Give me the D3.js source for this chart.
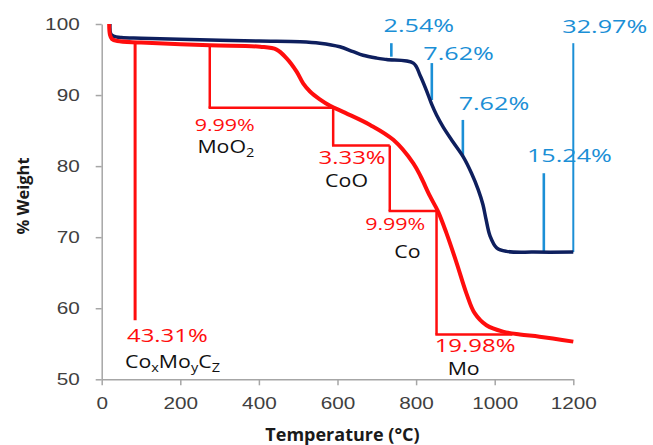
<!DOCTYPE html>
<html>
<head>
<meta charset="utf-8">
<script src="https://cdn.jsdelivr.net/npm/d3@7"></script>
<style>
  body { margin: 0; background: #fff; }
  svg { display: block; font-family: "Open Sans", sans-serif; }
  .axis path, .axis line { stroke: #a6a6a6; stroke-width: 1.5; }
  .axis text { fill: #404040; }
</style>
</head>
<body>
<div id="chart"></div>
<script>
// TGA curves, temperature (°C) vs % weight
const blueT = [21, 23, 30, 50, 100, 250, 400, 505, 555, 606, 640, 665, 700, 725, 793, 810, 826, 839, 852, 869, 894, 920, 941, 958, 970, 978, 988, 1005, 1030, 1100, 1200]
const blueW = [100, 98.6, 98.3, 98.1, 98.0, 97.8, 97.6, 97.5, 97.3, 96.8, 96.1, 95.6, 95.2, 95.0, 94.5, 92.8, 90.7, 88.8, 87.2, 85.5, 83.4, 81.3, 79.0, 76.7, 74.6, 72.5, 70.2, 68.5, 68.0, 67.9, 67.9]

const redT = [19, 21, 26, 40, 100, 275, 403, 445, 470, 496, 513, 530, 555, 581, 620, 683, 742, 793, 812, 835, 856, 877, 903, 928, 949, 979, 1021, 1064, 1114, 1200]
const redW = [100, 98.5, 97.9, 97.6, 97.4, 97.0, 96.8, 96.4, 95.2, 93.3, 91.6, 90.5, 89.4, 88.5, 87.5, 85.8, 83.7, 80.4, 78.5, 75.8, 73.6, 70.6, 66.4, 62.1, 59.3, 57.6, 56.7, 56.3, 56.0, 55.3]

// red step annotations
const stepT = [85, 275, 589, 733, 852]
const stepTop = [97.4, 97.0, 88.2, 82.9, 73.7]
const stepBottom = [58.3, 88.2, 82.9, 73.7, 56.3]
const stepEndT = [null, 589, 733, 852, 1045]

// blue markers
const markT = [737, 840, 919, 1125, 1200]
const markTop = [97.3, 94.5, 86.5, 79.0, 97.3]
const markBottom = [95.4, 89.3, 81.3, 67.9, 67.9]

// labels: text, temperature, weight (baseline)
const redLabels = [
  ['43.31%', 167, 55.25, 'big'],
  ['9.99%', 313, 85.0, 'small'],
  ['3.33%', 637, 80.3, 'big'],
  ['9.99%', 747, 71.0, 'small'],
  ['19.98%', 950, 53.8, 'big']
]
const phaseLabels = [
  ['Co_xMo_yC_Z', 180, 51.6],
  ['MoO_2', 316, 81.9],
  ['CoO', 623, 77.0],
  ['Co', 778, 67.0],
  ['Mo', 921, 50.6]
]
const blueLabels = [
  ['2.54%', 807, 98.9],
  ['7.62%', 908, 94.9],
  ['7.62%', 998, 87.9],
  ['15.24%', 1190, 80.6],
  ['32.97%', 1280, 98.7]
]

const xTicks = [0, 200, 400, 600, 800, 1000, 1200]
const yTicks = [50, 60, 70, 80, 90, 100]

const W = 653, H = 445
const RED = '#ff0d0d', NAVY = '#0e1f5e', BLUE = '#1b8fd6'

const svg = d3.select('#chart').append('svg')
  .attr('width', W)
  .attr('height', H)

const x = d3.scaleLinear().domain([0, 1200]).range([101.7, 573.3])
const y = d3.scaleLinear().domain([50, 100]).range([379.3, 24])

// axes
const xAxis = svg.append('g')
  .attr('class', 'axis')
  .attr('transform', 'translate(0,' + y(50) + ')')
  .call(d3.axisBottom(x).tickValues(xTicks).tickFormat(d3.format('d')).tickSize(6).tickPadding(8).tickSizeOuter(0))
xAxis.selectAll('text')
  .attr('font-size', 17)
  .attr('transform', 'scale(1.22,1)')
  .attr('dy', '0.9em')

const yAxis = svg.append('g')
  .attr('class', 'axis')
  .attr('transform', 'translate(' + x(0) + ',0)')
  .call(d3.axisLeft(y).tickValues(yTicks).tickSize(6).tickPadding(22).tickSizeOuter(0))
yAxis.selectAll('text')
  .attr('font-size', 17)
  .attr('text-anchor', 'end')
  .attr('transform', 'scale(1.22,1)')
  .attr('x', -22 / 1.22)

// axis titles
svg.append('text')
  .attr('x', (x(0) + x(1200)) / 2 + 5)
  .attr('y', 441)
  .attr('text-anchor', 'middle')
  .attr('font-size', 18)
  .attr('font-weight', 'bold')
  .attr('fill', '#1a1a1a')
  .text('Temperature (°C)')

svg.append('text')
  .attr('transform', 'translate(29,196) rotate(-90)')
  .attr('text-anchor', 'middle')
  .attr('font-size', 16.5)
  .attr('font-weight', 'bold')
  .attr('fill', '#1a1a1a')
  .text('% Weight')

// annotation lines
const ann = svg.append('g')
stepT.forEach((t, i) => {
  ann.append('line')
    .attr('x1', x(t)).attr('x2', x(t))
    .attr('y1', y(stepTop[i])).attr('y2', y(stepBottom[i]))
    .attr('stroke', RED).attr('stroke-width', i == 0 ? 3 : 2.5)
  if (stepEndT[i] != null) {
    ann.append('line')
      .attr('x1', x(t) - 1.2).attr('x2', x(stepEndT[i]))
      .attr('y1', y(stepBottom[i])).attr('y2', y(stepBottom[i]))
      .attr('stroke', RED).attr('stroke-width', 2.5)
  }
})
markT.forEach((t, i) => {
  ann.append('line')
    .attr('x1', x(t)).attr('x2', x(t))
    .attr('y1', y(markTop[i])).attr('y2', y(markBottom[i]))
    .attr('stroke', BLUE).attr('stroke-width', i == 4 ? 2 : 2.6)
})

// curves
const line = d3.line()
  .x(d => x(d[0]))
  .y(d => y(d[1]))
  .curve(d3.curveCatmullRom.alpha(0.5))

svg.append('path')
  .datum(blueT.map((t, i) => [t, blueW[i]]))
  .attr('d', line)
  .attr('fill', 'none')
  .attr('stroke', NAVY)
  .attr('stroke-width', 3.5)
  .attr('stroke-linejoin', 'round')

svg.append('path')
  .datum(redT.map((t, i) => [t, redW[i]]))
  .attr('d', line)
  .attr('fill', 'none')
  .attr('stroke', RED)
  .attr('stroke-width', 4)
  .attr('stroke-linejoin', 'round')

// text helper, "_x" becomes a subscript
function label(txt, t, w, size, color, sx) {
  const el = svg.append('text')
    .attr('transform', 'translate(' + x(t) + ',' + y(w) + ') scale(' + sx + ',1)')
    .attr('text-anchor', 'middle')
    .attr('font-size', size)
    .attr('fill', color)
  const parts = txt.split(/(_.)/)
  let sub = false
  parts.forEach(p => {
    if (!p) return
    if (p[0] == '_') {
      el.append('tspan').attr('font-size', size * 0.68).attr('dy', 4).text(p[1])
      sub = true
    } else {
      el.append('tspan').attr('dy', sub ? -4 : 0).text(p)
      sub = false
    }
  })
}

redLabels.forEach(d => label(d[0], d[1], d[2], d[3] == 'big' ? 18 : 16.5, RED, d[3] == 'big' ? 1.33 : 1.3))
phaseLabels.forEach(d => label(d[0], d[1], d[2], 17.5, '#111', 1.22))
blueLabels.forEach(d => label(d[0], d[1], d[2], 18.5, BLUE, 1.36))
</script>
</body>
</html>
